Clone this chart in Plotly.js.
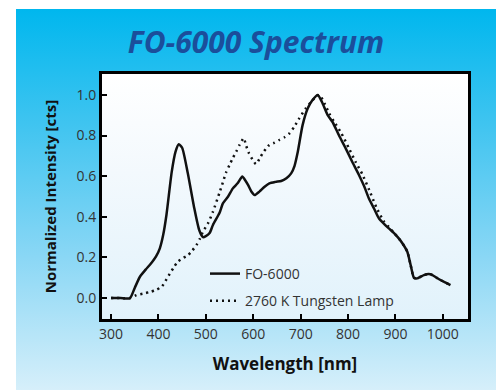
<!DOCTYPE html>
<html>
<head>
<meta charset="utf-8">
<script src="https://cdn.plot.ly/plotly-3.0.1.min.js"></script>
<style>
  html, body { margin:0; padding:0; background:#ffffff; }
  #wrap { position:relative; width:496px; height:391px; overflow:hidden; background:#ffffff; }
  #panel { position:absolute; left:16px; top:9px; width:480px; height:381px;
           background:linear-gradient(to bottom, #00b7ee 0%, #3fc4f0 30%, #8ad7f5 65%, #d6effa 100%); }
  #plotbg { position:absolute; left:102px; top:74px; width:366px; height:245px;
            background:linear-gradient(to bottom, #ffffff 0%, #f3f9fd 40%, #e1f2fb 100%); }
  #chart { position:absolute; left:0; top:0; width:496px; height:391px; }
</style>
</head>
<body>
<div id="wrap">
  <div id="panel"></div>
  <div id="plotbg"></div>
  <div id="chart"></div>
</div>
<script>
// FO-6000 spectrum (wavelength nm, normalized intensity)
const foWavelength = [300, 320, 340, 350, 361, 373, 386, 395, 403, 410, 417, 428, 436, 443, 450, 462, 475, 486, 494, 500, 508, 515, 529, 536, 547, 557, 567, 577, 583, 589, 596, 603, 613, 624, 634, 647, 659, 670, 680, 687, 694, 704, 715, 725, 736, 745, 757, 767, 781, 795, 809, 823, 834, 844, 855, 865, 876, 886, 897, 907, 916, 925, 932, 939, 946, 953, 960, 970, 978, 987, 995, 1005, 1016];
const foIntensity = [0, 0, 0, 0.05, 0.105, 0.14, 0.175, 0.205, 0.245, 0.31, 0.41, 0.62, 0.72, 0.757, 0.74, 0.614, 0.45, 0.335, 0.30, 0.305, 0.32, 0.36, 0.42, 0.466, 0.50, 0.54, 0.565, 0.598, 0.58, 0.557, 0.525, 0.507, 0.524, 0.548, 0.565, 0.572, 0.576, 0.59, 0.614, 0.65, 0.72, 0.85, 0.934, 0.975, 1.0, 0.965, 0.90, 0.868, 0.80, 0.737, 0.67, 0.606, 0.55, 0.49, 0.44, 0.393, 0.365, 0.343, 0.32, 0.294, 0.265, 0.228, 0.163, 0.10, 0.097, 0.105, 0.113, 0.118, 0.113, 0.10, 0.089, 0.077, 0.064];

// 2760 K tungsten lamp spectrum
const lampWavelength = [300, 320, 340, 354, 368, 382, 395, 407, 415, 424, 432, 441, 452, 462, 471, 480, 487, 494, 505, 515, 529, 536, 543, 550, 557, 564, 571, 580, 585, 591, 599, 606, 613, 620, 627, 634, 645, 655, 666, 676, 687, 697, 711, 722, 732, 740, 750, 760, 770, 785, 802, 816, 830, 845, 860, 875, 886, 897, 907, 916, 925, 932, 939, 946, 953, 960, 970, 978, 987, 995, 1005, 1016];
const lampIntensity = [0, 0, 0, 0.015, 0.022, 0.03, 0.04, 0.056, 0.085, 0.12, 0.15, 0.18, 0.197, 0.21, 0.233, 0.26, 0.29, 0.327, 0.37, 0.425, 0.52, 0.57, 0.62, 0.655, 0.69, 0.72, 0.754, 0.787, 0.75, 0.713, 0.68, 0.659, 0.685, 0.713, 0.735, 0.754, 0.765, 0.778, 0.792, 0.81, 0.845, 0.885, 0.934, 0.965, 0.99, 1.0, 0.96, 0.91, 0.87, 0.815, 0.737, 0.67, 0.61, 0.53, 0.445, 0.38, 0.35, 0.32, 0.294, 0.265, 0.228, 0.163, 0.10, 0.097, 0.105, 0.113, 0.118, 0.113, 0.10, 0.089, 0.077, 0.064];

const xTicks = [300, 400, 500, 600, 700, 800, 900, 1000];
const yTicks = [0.0, 0.2, 0.4, 0.6, 0.8, 1.0];
const seriesNames = ["FO-6000", "2760 K Tungsten Lamp"];

const traces = [
  { x: foWavelength, y: foIntensity, name: seriesNames[0], type: "scatter", mode: "lines",
    legendgroup: "a", line: { color: "#111111", width: 2.5, shape: "spline", smoothing: 0.6 } },
  { x: lampWavelength, y: lampIntensity, name: seriesNames[1], type: "scatter", mode: "lines",
    legendgroup: "b", line: { color: "#111111", width: 2.5, dash: "2px,4px", shape: "spline", smoothing: 0.6 } }
];

const tickFont = { family: "Open Sans, sans-serif", size: 14, color: "#333333" };

const layout = {
  width: 496, height: 391,
  margin: { l: 102, r: 28, t: 74, b: 72, pad: 0 },
  paper_bgcolor: "rgba(0,0,0,0)",
  plot_bgcolor: "rgba(0,0,0,0)",
  title: {
    text: "<b><i>FO-6000 Spectrum</i></b>",
    font: { family: "Open Sans, sans-serif", size: 30, color: "#1b4e9b" },
    x: 256 / 496, xanchor: "center", xref: "container",
    y: 1 - 42 / 391, yanchor: "middle", yref: "container"
  },
  xaxis: {
    range: [281, 1053], tickvals: xTicks, ticktext: xTicks.map(String),
    ticks: "inside", ticklen: 5, tickwidth: 2, tickcolor: "#000",
    showline: true, linewidth: 3, linecolor: "#000", mirror: true,
    showgrid: false, zeroline: false, tickfont: tickFont,
    title: { text: "<b>Wavelength [nm]</b>", standoff: 17,
             font: { family: "Open Sans, sans-serif", size: 17, color: "#111111" } }
  },
  yaxis: {
    range: [-0.103, 1.103], tickvals: yTicks, ticktext: yTicks.map(v => v.toFixed(1)),
    ticks: "inside", ticklen: 5, tickwidth: 2, tickcolor: "#000",
    showline: true, linewidth: 3, linecolor: "#000", mirror: true,
    showgrid: false, zeroline: false, tickfont: tickFont,
    title: { text: "<b>Normalized Intensity [cts]</b>", standoff: 17,
             font: { family: "Open Sans, sans-serif", size: 15, color: "#111111" } }
  },
  showlegend: true,
  legend: {
    x: (205 - 102) / 366, xanchor: "left",
    y: (319 - 258) / 245, yanchor: "top",
    bgcolor: "rgba(0,0,0,0)", borderwidth: 0,
    traceorder: "grouped", tracegroupgap: 6,
    font: { family: "Open Sans, sans-serif", size: 14, color: "#333333" }
  }
};

Plotly.newPlot("chart", traces, layout, { displayModeBar: false, staticPlot: true });
</script>
</body>
</html>
